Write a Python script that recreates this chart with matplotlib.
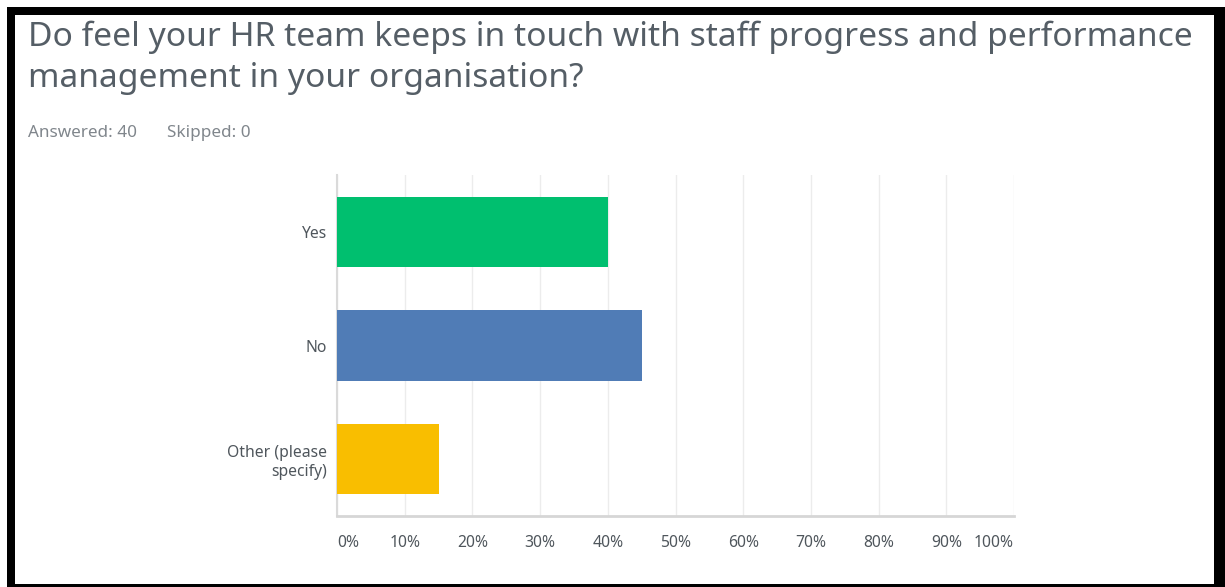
import matplotlib
matplotlib.use("Agg")
import matplotlib.pyplot as plt
from matplotlib.patches import Rectangle
from matplotlib.ticker import FixedLocator

# Survey question and response summary
question_lines = ["Do feel your HR team keeps in touch with staff progress and performance",
                  "management in your organisation?"]
answered = 40
skipped = 0

# Answer choices (top to bottom) and share of respondents in %
choices = ["Yes", "No", "Other (please\nspecify)"]
shares = [40, 45, 15]
bar_colors = ["#00bf6f", "#507cb6", "#f9be00"]
x_ticks = [0, 10, 20, 30, 40, 50, 60, 70, 80, 90, 100]
x_labels = [str(t) + "%" for t in x_ticks]

plt.rcParams['font.family'] = ['Noto Sans', 'DejaVu Sans']

W, H = 1225, 587
fig = plt.figure(figsize=(W / 100, H / 100), dpi=100)
fig.patch.set_facecolor("white")

# black frame around the card
fig.add_artist(Rectangle((7 / W, 0), 1 - 7 / W, (H - 7) / H, transform=fig.transFigure,
                         facecolor="black", edgecolor="none", zorder=0))
fig.add_artist(Rectangle((15 / W, 3 / H), (1214 - 15) / W, (H - 15 - 3) / H, transform=fig.transFigure,
                         facecolor="white", edgecolor="none", zorder=0))

# title, one text per line
for i, line in enumerate(question_lines):
    fig.text(28 / W, 1 - (46 + 41 * i) / H, line, fontsize=24.2, color="#555e66",
             va="baseline", ha="left")
fig.text(28 / W, 1 - 137 / H, "Answered: " + str(answered), fontsize=12.3, color="#80868c",
         va="baseline", ha="left")
fig.text(167 / W, 1 - 137 / H, "Skipped: " + str(skipped), fontsize=12.3, color="#80868c",
         va="baseline", ha="left")

ax = fig.add_axes([337 / W, 71 / H, (1014 - 337) / W, (516 - 175) / H])
ypos = list(range(len(choices)))
ax.barh(ypos, shares, height=0.62, color=bar_colors, zorder=3)
ax.set_xlim(0, 100)
ax.set_ylim(len(choices) - 0.5, -0.5)

ax.xaxis.set_major_locator(FixedLocator(x_ticks))
ax.set_xticklabels(x_labels)
ticklabels = ax.get_xticklabels()
ticklabels[0].set_ha("left")
ticklabels[-1].set_ha("right")
ax.set_yticks(ypos)
ax.set_yticklabels(choices, ha="right", multialignment="right")
ax.tick_params(axis="x", length=0, pad=14, labelsize=11.3, labelcolor="#4f565c")
ax.tick_params(axis="y", length=0, pad=7, labelsize=11.3, labelcolor="#4f565c")

ax.grid(True, axis="x", color="#ececec", linewidth=1, zorder=0)
for side in ["top", "right"]:
    ax.spines[side].set_visible(False)
ax.spines["left"].set_color("#dadada")
ax.spines["left"].set_linewidth(1.5)
ax.spines["bottom"].set_color("#d6d6d6")
ax.spines["bottom"].set_linewidth(2)

plt.savefig("out.png", dpi=100)
